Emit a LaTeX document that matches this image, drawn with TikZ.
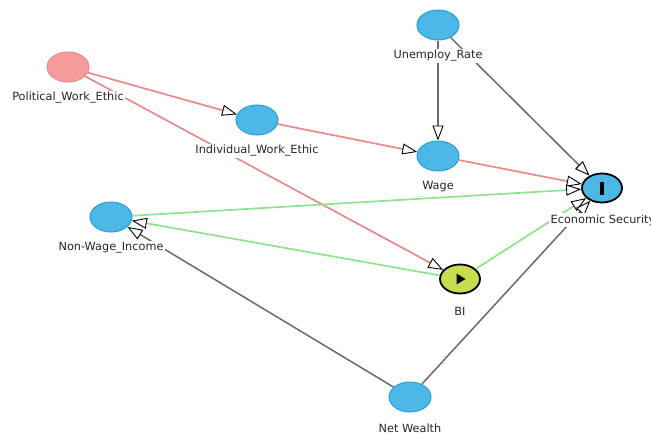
\documentclass[tikz,border=0pt]{standalone}
\usepackage{fontspec}
\setmainfont{DejaVu Sans}
\usetikzlibrary{arrows.meta,shapes.geometric}
\definecolor{nodeblue}{HTML}{4DB8E8}
\definecolor{nodeblueb}{HTML}{2A9ED2}
\definecolor{nodered}{HTML}{F79C9C}
\definecolor{noderedb}{HTML}{E88A8A}
\definecolor{edgered}{HTML}{E8898A}
\definecolor{edgegreen}{HTML}{8EE48A}
\definecolor{edgegray}{HTML}{6A6A6A}
\definecolor{bifill}{HTML}{C8DC4E}
\tikzset{
  var/.style={ellipse, draw=nodeblueb, fill=nodeblue, line width=1pt, minimum width=42pt, minimum height=30pt, inner sep=0pt},
  redvar/.style={var, draw=noderedb, fill=nodered},
  outvar/.style={var, draw=black, line width=1.8pt, minimum width=40pt, minimum height=29pt},
  bivar/.style={var, draw=black, fill=bifill, line width=1.8pt, minimum width=40pt, minimum height=29pt},
  lbl/.style={fill=white, inner sep=1.5pt, font=\fontsize{11.3}{13}\selectfont, text=black!85},
  tip/.style={-{Triangle[open, length=15pt, width=11pt, color=black, fill=white, line width=0.9pt]}},
  redarc/.style={tip, draw=edgered, line width=1.7pt},
  greenarc/.style={tip, draw=edgegreen, line width=1.7pt},
  grayarc/.style={tip, draw=edgegray, line width=1.5pt},
}
\begin{document}
\begin{tikzpicture}[x=1pt, y=-1pt]
\useasboundingbox (0,0) rectangle (651,434);
% nodes
\node[redvar] (pwe) at (68,67) {};
\node[var] (iwe) at (257,120) {};
\node[var] (ur) at (438,25) {};
\node[var] (wage) at (438,156) {};
\node[outvar] (es) at (602,188) {};
\node[var] (nwi) at (111,217) {};
\node[bivar] (bi) at (460,279) {};
\node[var] (nw) at (410,397) {};
% edges
\draw[redarc] (pwe) -- (iwe);
\draw[redarc] (pwe) -- (bi);
\draw[redarc] (iwe) -- (wage);
\draw[redarc] (wage) -- (es);
\draw[grayarc] (ur) -- (wage);
\draw[grayarc] (ur) -- (es);
\draw[greenarc] (nwi) -- (es);
\draw[greenarc] (bi) -- (nwi);
\draw[greenarc] (bi) -- (es);
\draw[grayarc] (nw) -- (nwi);
\draw[grayarc] (nw) -- (es);
% glyphs
\fill[shift={(bi)}] (-3.5,-5.5) -- (-3.5,5.5) -- (5.5,0) -- cycle;
\fill[shift={(es)}] (-2,-6.5) rectangle (2,6.5);
% labels
\node[lbl] (pwe-l) at (68,98) {Political\_Work\_Ethic};
\node[lbl] (iwe-l) at (257,151) {Individual\_Work\_Ethic};
\node[lbl] (ur-l) at (438,56) {Unemploy\_Rate};
\node[lbl] (wage-l) at (438,187) {Wage};
\node[lbl] (es-l) at (603,220) {Economic Security};
\node[lbl] (nwi-l) at (111,248) {Non-Wage\_Income};
\node[lbl] (bi-l) at (460,311) {BI};
\node[lbl] (nw-l) at (410,428) {Net Wealth};
\end{tikzpicture}
\end{document}
